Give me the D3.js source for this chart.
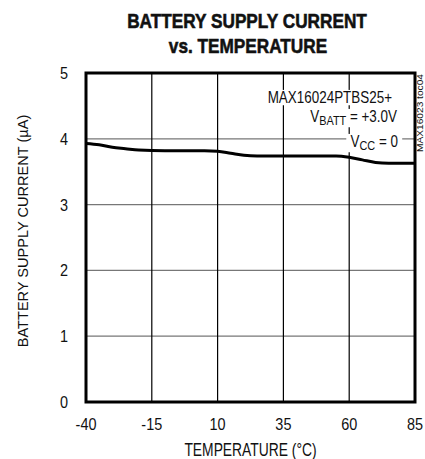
<!DOCTYPE html>
<html>
<head>
<meta charset="utf-8">
<script src="https://cdn.jsdelivr.net/npm/d3@7"></script>
<style>
  body { margin: 0; background: #fff; }
  text { font-family: "Liberation Sans", Arial, sans-serif; fill: #111; }
</style>
</head>
<body>
<script>
// data
var temps = [-40, -35, -30, -25, -20, -10, 0, 5, 10, 15, 20, 25, 30, 40, 50, 55, 60, 65, 70, 75, 80, 85]
var current = [3.93, 3.91, 3.87, 3.85, 3.83, 3.82, 3.82, 3.82, 3.81, 3.78, 3.75, 3.74, 3.74, 3.74, 3.74, 3.74, 3.72, 3.68, 3.64, 3.63, 3.63, 3.63]
var xTicks = [-40, -15, 10, 35, 60, 85]
var yTicks = [0, 1, 2, 3, 4, 5]

var W = 425, H = 459
var margin = {top: 73, right: 10, bottom: 57, left: 86}
var width = W - margin.left - margin.right,
    height = H - margin.top - margin.bottom

var svg = d3.select("body").append("svg")
  .attr("width", W).attr("height", H)

var x = d3.scaleLinear().domain([-40, 85]).range([0, width])
var y = d3.scaleLinear().domain([0, 5]).range([height, 0])

// condensed text: squeeze a normal font horizontally
function label(parent, px, py, str, fs, sx, anchor, weight) {
  var grp = parent.append("g").attr("transform", "translate(" + px + "," + py + ") scale(" + sx + ",1)")
  var t = grp.append("text").attr("text-anchor", anchor || "middle")
    .style("font-size", fs + "px").style("font-weight", weight || "normal")
  if (str != null) t.text(str)
  return t
}

// title (heavy, condensed)
label(svg, 247, 28, "BATTERY SUPPLY CURRENT", 21, 0.82, "middle", "bold")
  .attr("stroke", "#111").attr("stroke-width", 0.6)
label(svg, 248, 53, "vs. TEMPERATURE", 21, 0.82, "middle", "bold")
  .attr("stroke", "#111").attr("stroke-width", 0.6)

var g = svg.append("g").attr("transform", "translate(" + margin.left + "," + margin.top + ")")

// grid
g.selectAll(".hg").data(yTicks.slice(1, -1)).enter().append("line")
  .attr("x1", 0).attr("x2", width)
  .attr("y1", function(d) { return y(d) }).attr("y2", function(d) { return y(d) })
  .attr("stroke", "#777").attr("stroke-width", 1.2)
g.selectAll(".vg").data(xTicks.slice(1, -1)).enter().append("line")
  .attr("y1", 0).attr("y2", height)
  .attr("x1", function(d) { return x(d) }).attr("x2", function(d) { return x(d) })
  .attr("stroke", "#000").attr("stroke-width", 1.2)

// annotation with white backing
var notes = [
  {t: "MAX16024PTBS25+", yy: 30, xx: 306},
  {t: "V", sub: "BATT", rest: " = +3.0V", yy: 49, xx: 311},
  {t: "V", sub: "CC", rest: " = 0", yy: 74, xx: 312}
]
notes.forEach(function(n) {
  var txt = label(g, n.xx, n.yy, null, 16, 0.84, "end")
  txt.append("tspan").text(n.t)
  if (n.sub) {
    txt.append("tspan").attr("dy", 3).style("font-size", "13px").text(n.sub)
    txt.append("tspan").attr("dy", -3).text(n.rest)
  }
  var bb = txt.node().getBBox()
  d3.select(txt.node().parentNode).insert("rect", "text")
    .attr("x", bb.x - 5).attr("y", bb.y + 1)
    .attr("width", bb.width + 10).attr("height", bb.height - 2).attr("fill", "#fff")
})

// curve
var line = d3.line()
  .x(function(d, i) { return x(temps[i]) })
  .y(function(d) { return y(d) })
  .curve(d3.curveMonotoneX)
g.append("path").datum(current).attr("d", line)
  .attr("fill", "none").attr("stroke", "#000").attr("stroke-width", 3)

// frame
g.append("rect").attr("width", width).attr("height", height)
  .attr("fill", "none").attr("stroke", "#000").attr("stroke-width", 3)

// tick labels
yTicks.forEach(function(d) {
  label(g, -22, y(d) + 6, d, 17, 0.85, "middle")
})
xTicks.forEach(function(d) {
  label(g, x(d), height + 28, d, 17, 0.85, "middle")
})

// axis titles
label(svg, margin.left + width / 2, 456, "TEMPERATURE (°C)", 18, 0.77, "middle")
var yt = svg.append("g").attr("transform", "translate(28,231) rotate(-90) scale(0.94,1)")
yt.append("text").attr("text-anchor", "middle").style("font-size", "15.5px")
  .text("BATTERY SUPPLY CURRENT (µA)")

svg.append("text").attr("transform", "translate(423,152) rotate(-90)")
  .attr("textLength", 78).attr("lengthAdjust", "spacingAndGlyphs")
  .style("font-size", "8.5px").text("MAX16023 toc04")
</script>
</body>
</html>
